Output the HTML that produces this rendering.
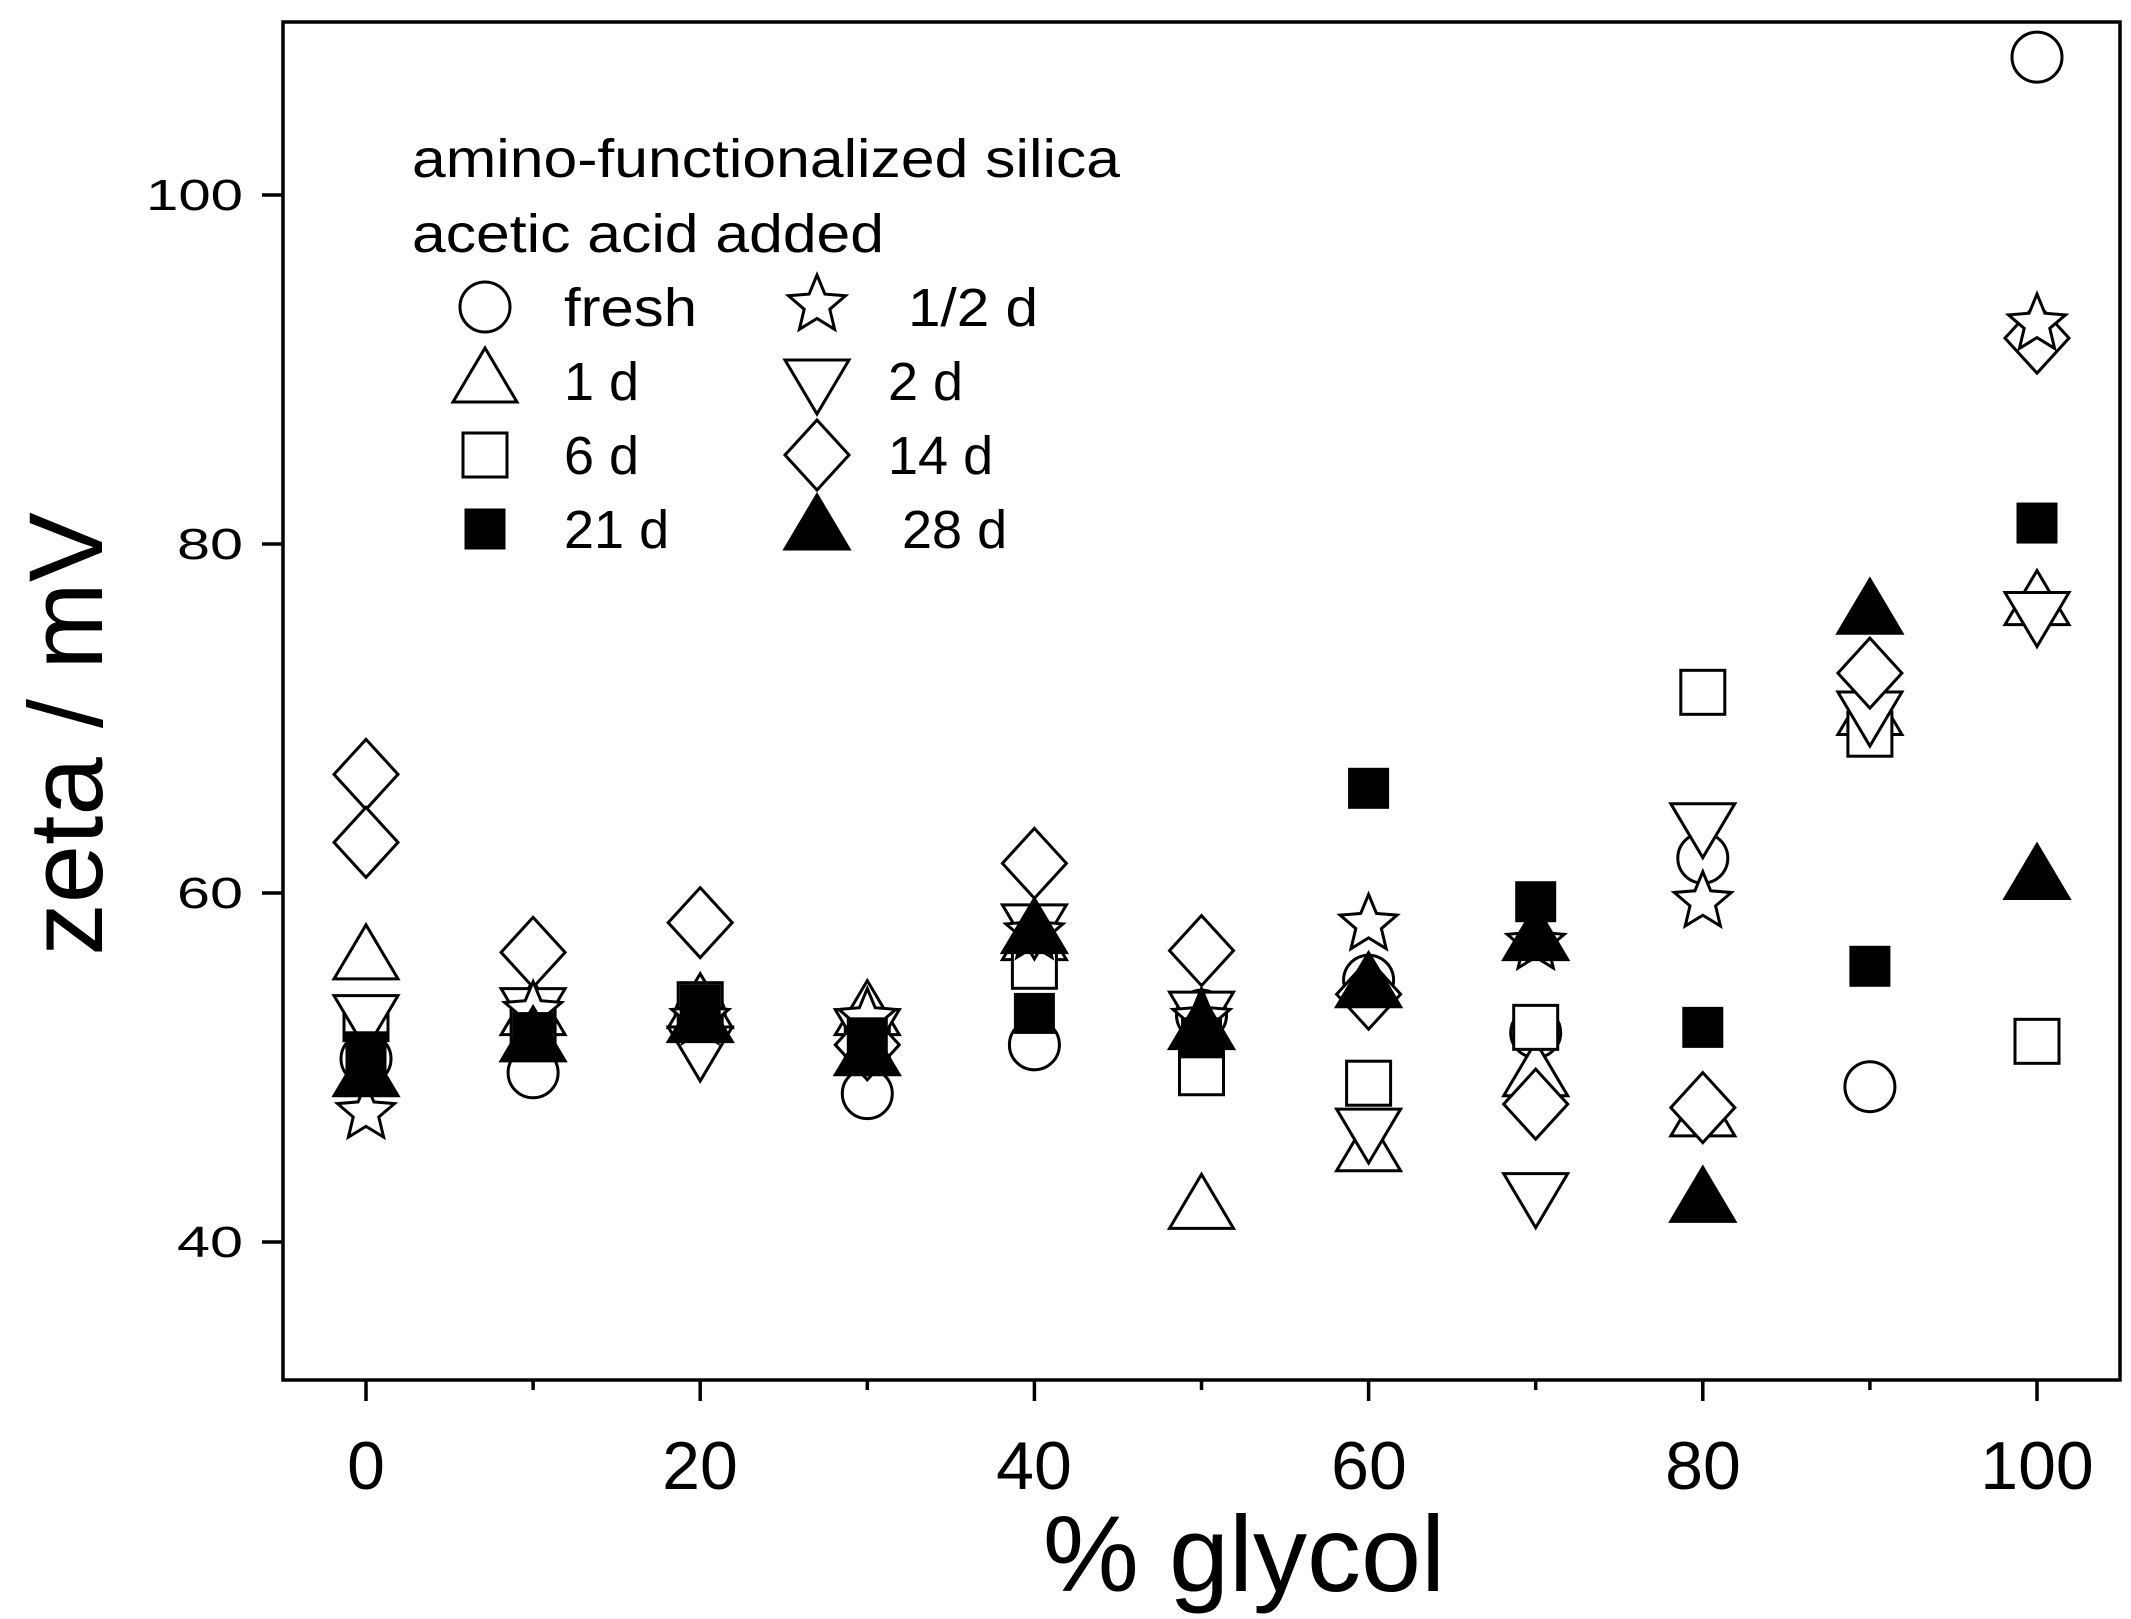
<!DOCTYPE html>
<html><head><meta charset="utf-8"><style>html,body{margin:0;padding:0;background:#fff}svg{display:block}</style></head>
<body>
<svg id="s" xmlns="http://www.w3.org/2000/svg" width="2131" height="1619" viewBox="0 0 2131 1619" font-family="Liberation Sans, Arial, sans-serif">
<rect x="0" y="0" width="2131" height="1619" fill="#fff"/>
<rect x="283" y="22" width="1837" height="1358" fill="none" stroke="#000" stroke-width="3.5"/>
<g id="ticks" stroke="#000" stroke-width="3.5"></g>
<g font-size="44" text-anchor="end" fill="#000">
<text x="243" y="1257" textLength="66" lengthAdjust="spacingAndGlyphs">40</text>
<text x="243" y="908" textLength="66" lengthAdjust="spacingAndGlyphs">60</text>
<text x="243" y="559" textLength="66" lengthAdjust="spacingAndGlyphs">80</text>
<text x="243" y="210" textLength="97" lengthAdjust="spacingAndGlyphs">100</text>
</g>
<g font-size="68" text-anchor="middle" fill="#000">
<text x="366" y="1489">0</text><text x="700" y="1489">20</text><text x="1034" y="1489">40</text><text x="1369" y="1489">60</text><text x="1703" y="1489">80</text><text x="2037" y="1489">100</text>
</g>
<text x="1244" y="1591" font-size="108" text-anchor="middle">% glycol</text>
<text transform="translate(102,734) rotate(-90)" font-size="105" text-anchor="middle">zeta / mV</text>
<g font-size="54" fill="#000">
<text x="412" y="177" textLength="708" lengthAdjust="spacingAndGlyphs">amino-functionalized silica</text>
<text x="412" y="252" textLength="472" lengthAdjust="spacingAndGlyphs">acetic acid added</text>
<text x="564" y="326" textLength="133" lengthAdjust="spacingAndGlyphs">fresh</text><text x="908" y="326" textLength="130" lengthAdjust="spacingAndGlyphs">1/2 d</text>
<text x="564" y="400">1 d</text><text x="888" y="400">2 d</text>
<text x="564" y="474">6 d</text><text x="888" y="474">14 d</text>
<text x="564" y="548">21 d</text><text x="902" y="548">28 d</text>
</g>
<g id="m" stroke="#000" stroke-width="3" fill="#fff"></g>
</svg>
<script>
var NS="http://www.w3.org/2000/svg";
var t=document.getElementById('ticks'),m=document.getElementById('m');
function el(tag,a,p){var e=document.createElementNS(NS,tag);for(var k in a)e.setAttribute(k,a[k]);(p||m).appendChild(e);return e;}
var X0=366,XS=16.71,Y40=1242,YS=17.45;
for(var i=0;i<=10;i++){var x=X0+XS*10*i;el('line',{x1:x,x2:x,y1:1380,y2:i%2?1390:1401},t);}
for(var v=40;v<=100;v+=20){var y=Y40-(v-40)*YS;el('line',{x1:283,x2:262,y1:y,y2:y},t);}
function star(cx,cy,r){var p=[];for(var i=0;i<10;i++){var a=-Math.PI/2+i*Math.PI/5,rr=i%2?r*0.45:r;p.push((cx+rr*Math.cos(a)).toFixed(1)+','+(cy+rr*Math.sin(a)).toFixed(1));}return p.join(' ');}
function mk(type,cx,cy){
 switch(type){
 case 'o':el('circle',{cx:cx,cy:cy,r:25});break;
 case '^':el('polygon',{points:(cx-32)+','+(cy+23)+' '+(cx+32)+','+(cy+23)+' '+cx+','+(cy-31)});break;
 case 'v':el('polygon',{points:(cx-32)+','+(cy-23)+' '+(cx+32)+','+(cy-23)+' '+cx+','+(cy+31)});break;
 case 's':el('rect',{x:cx-22,y:cy-22,width:44,height:44});break;
 case 'd':el('polygon',{points:cx+','+(cy-35)+' '+(cx+32)+','+cy+' '+cx+','+(cy+35)+' '+(cx-32)+','+cy});break;
 case '*':el('polygon',{points:star(cx,cy,30)});break;
 case 'S':el('rect',{x:cx-19,y:cy-19,width:38,height:38,fill:'#000'});break;
 case 'T':el('polygon',{points:(cx-32)+','+(cy+23)+' '+(cx+32)+','+(cy+23)+' '+cx+','+(cy-31),fill:'#000'});break;
 }}
mk('o',485,307);mk('*',817,305);mk('^',485,379);mk('v',817,383);mk('s',485,455);mk('d',817,455);mk('S',485,529);mk('T',817,526);
var D={
0:{d:[66.8,62.9],'^':56.4,s:52.8,v:52.8,o:50.5,'*':47.4,S:50.9,T:49.7},
10:{d:56.6,o:49.7,'*':53.2,'^':53.2,v:53.2,s:52.5,S:52,T:51.7},
20:{d:58.3,v:51,s:53.6,'^':53.6,'*':52.8,o:53,S:53.6,T:52.8},
30:{o:48.5,'^':53.2,'*':52.8,v:52,s:51.5,d:51.3,S:51.7,T:50.9},
40:{d:61.7,v:58,'*':57.7,'^':57.5,s:55.8,o:51.3,S:53.1,T:57.9},
50:{d:56.7,'^':42.1,s:49.7,'*':52.8,o:53,v:53,S:51.7,T:52.4},
60:{'*':58.2,o:55,d:54.2,s:49.1,v:46.3,'^':45.4,S:66,T:54.8},
70:{'*':57.1,s:52.3,o:52,'^':49.7,d:47.9,v:42.6,S:59.5,T:57.5},
80:{s:71.5,v:63.8,o:62,'*':59.5,d:47.7,'^':47.4,S:52.3,T:42.5},
90:{d:72.6,'^':70.4,v:70.2,s:69.1,o:48.9,S:55.8,T:76.2},
100:{o:107.9,'*':92.6,d:91.8,'^':76.7,v:75.9,s:51.5,S:81.2,T:61}};
var order=['o','^','s','v','d','*','S','T'];
for(var xv in D){var cx=X0+XS*xv;order.forEach(function(k){var val=D[xv][k];if(val===undefined)return;[].concat(val).forEach(function(vv){mk(k,cx,Y40-(vv-40)*YS);});});}
</script>
</body></html>
